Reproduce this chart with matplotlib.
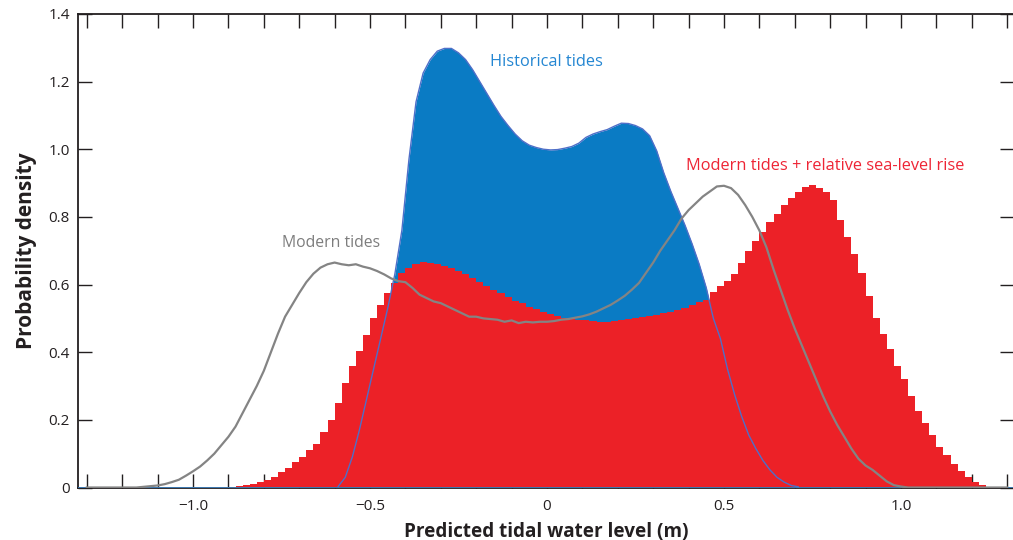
import matplotlib
matplotlib.use("Agg")
import matplotlib.pyplot as plt
import numpy as np

# histogram bins are 0.02 m wide
bin_width = 0.02

# Historical tides (blue), first bin starts at -0.60
blue_start = -0.60
blue_vals = [0.003, 0.03, 0.09, 0.17, 0.26, 0.35, 0.44, 0.53, 0.63, 0.76,
             0.97, 1.14, 1.225, 1.265, 1.29, 1.298, 1.298, 1.285, 1.265, 1.235,
             1.2, 1.165, 1.13, 1.097, 1.07, 1.045, 1.025, 1.012, 1.005, 1.0,
             0.998, 0.999, 1.003, 1.008, 1.018, 1.035, 1.045, 1.052, 1.058, 1.068,
             1.077, 1.076, 1.07, 1.06, 1.04, 0.995, 0.93, 0.875, 0.825, 0.775,
             0.72, 0.66, 0.59, 0.5, 0.44, 0.35, 0.275, 0.21, 0.155, 0.115,
             0.08, 0.052, 0.03, 0.016, 0.006, 0.002]

# Modern tides + relative sea-level rise (red), first bin starts at -0.90
red_start = -0.90
red_vals = [0.002, 0.004, 0.007, 0.011, 0.016, 0.022, 0.03, 0.045, 0.058, 0.075,
            0.09, 0.11, 0.13, 0.165, 0.2, 0.25, 0.31, 0.36, 0.405, 0.45,
            0.5, 0.54, 0.575, 0.605, 0.635, 0.65, 0.662, 0.668, 0.665, 0.66,
            0.656, 0.65, 0.64, 0.63, 0.62, 0.607, 0.596, 0.585, 0.575, 0.563,
            0.552, 0.545, 0.535, 0.527, 0.52, 0.513, 0.506, 0.502, 0.5, 0.496,
            0.494, 0.492, 0.49, 0.49, 0.493, 0.496, 0.498, 0.5, 0.503, 0.506,
            0.51, 0.515, 0.52, 0.525, 0.532, 0.54, 0.548, 0.555, 0.578, 0.595,
            0.61, 0.63, 0.665, 0.7, 0.73, 0.755, 0.785, 0.81, 0.835, 0.855,
            0.873, 0.888, 0.893, 0.885, 0.875, 0.85, 0.79, 0.74, 0.69, 0.635,
            0.565, 0.5, 0.455, 0.41, 0.36, 0.32, 0.27, 0.225, 0.19, 0.155,
            0.12, 0.095, 0.07, 0.05, 0.032, 0.016, 0.006, 0.002]

# Modern tides (gray line), sampled every 0.02 m from -1.30
gray_start = -1.30
gray_vals = [0, 0, 0, 0, 0, 0, 0, 0,
             0.002, 0.004, 0.006, 0.010, 0.016, 0.023, 0.035, 0.048, 0.062, 0.080,
             0.100, 0.125, 0.150, 0.180, 0.220, 0.260, 0.300, 0.345, 0.400, 0.455,
             0.505, 0.540, 0.575, 0.607, 0.632, 0.650, 0.660, 0.665, 0.660, 0.657,
             0.660, 0.653, 0.648, 0.640, 0.630, 0.618, 0.610, 0.607, 0.590, 0.570,
             0.560, 0.550, 0.545, 0.535, 0.525, 0.515, 0.505, 0.505, 0.500, 0.498,
             0.496, 0.490, 0.494, 0.486, 0.490, 0.488, 0.490, 0.490, 0.492, 0.496,
             0.498, 0.502, 0.506, 0.512, 0.520, 0.530, 0.540, 0.553, 0.567, 0.585,
             0.605, 0.635, 0.665, 0.700, 0.730, 0.760, 0.795, 0.820, 0.840, 0.860,
             0.875, 0.890, 0.892, 0.885, 0.865, 0.835, 0.800, 0.760, 0.710, 0.645,
             0.585, 0.525, 0.470, 0.420, 0.370, 0.320, 0.270, 0.225, 0.185, 0.150,
             0.115, 0.085, 0.065, 0.052, 0.035, 0.018, 0.007, 0.003,
             0, 0, 0, 0, 0, 0, 0, 0, 0, 0, 0, 0, 0, 0, 0]

xtick_major = [-1.0, -0.5, 0, 0.5, 1.0]
xtick_labels = ["\u22121.0", "\u22120.5", "0", "0.5", "1.0"]
ytick_vals = [0, 0.2, 0.4, 0.6, 0.8, 1.0, 1.2, 1.4]
ytick_labels = ["0", "0.2", "0.4", "0.6", "0.8", "1.0", "1.2", "1.4"]

BLUE = "#0a7bc4"
RED = "#ec2127"
GRAY = "#848484"
TXT = "#231f20"

plt.rcParams["font.family"] = ["Open Sans", "DejaVu Sans"]

fig = plt.figure(figsize=(10.13, 5.40), dpi=100)
ax = fig.add_axes([0.077, 0.0972, 0.9235, 0.877])

def edges(start, n):
    return np.round(start + bin_width * np.arange(n + 1), 3)

blue_edges = edges(blue_start, len(blue_vals))
blue_mid = blue_edges[:-1] + bin_width / 2
red_edges = edges(red_start, len(red_vals))
gray_x = np.round(gray_start + 0.02 * np.arange(len(gray_vals)), 3)

# blue drawn smooth (fine bins in the original), red as visible steps
ax.fill_between(blue_mid, blue_vals, 0, color=BLUE, lw=0, zorder=1)
ax.stairs(red_vals, red_edges, fill=True, color=RED, lw=0, zorder=2)
ax.plot(blue_mid, blue_vals, color="#4f6fc8", lw=1.0, zorder=3)
ax.axhline(0, color="#3f86c8", lw=1.2, zorder=3)
ax.plot(gray_x, gray_vals, color=GRAY, lw=1.6, zorder=4)

ax.text(-0.161, 1.259, "Historical tides", color="#2486d2", fontsize=11.8, va="center")
ax.text(0.393, 0.951, "Modern tides + relative sea-level rise", color="#ee2535",
        fontsize=11.8, va="center")
ax.text(-0.75, 0.723, "Modern tides", color="#7d7d7d", fontsize=11.3, va="center")

ax.set_xlim(-1.325, 1.318)
ax.set_ylim(0, 1.4)

ax.set_xticks(xtick_major, xtick_labels)
ax.set_xticks(np.round(np.arange(-1.3, 1.31, 0.1), 2), minor=True)
ax.set_yticks(ytick_vals, ytick_labels)

ax.tick_params(axis="x", which="both", direction="in", top=True, bottom=True,
               length=10, width=1.0, color=TXT, labelsize=11, labelcolor=TXT, pad=8)
ax.tick_params(axis="y", direction="in", left=True, right=True,
               length=10, width=1.0, color=TXT, labelsize=11, labelcolor=TXT, pad=6)

for s in ax.spines.values():
    s.set_linewidth(1.3)
    s.set_color(TXT)

ax.set_xlabel("Predicted tidal water level (m)", fontsize=13.6, fontweight="bold",
              color=TXT, labelpad=6)
ax.set_ylabel("Probability density", fontsize=15, fontweight="bold",
              color=TXT, labelpad=8)

fig.savefig("out.png", dpi=100)
